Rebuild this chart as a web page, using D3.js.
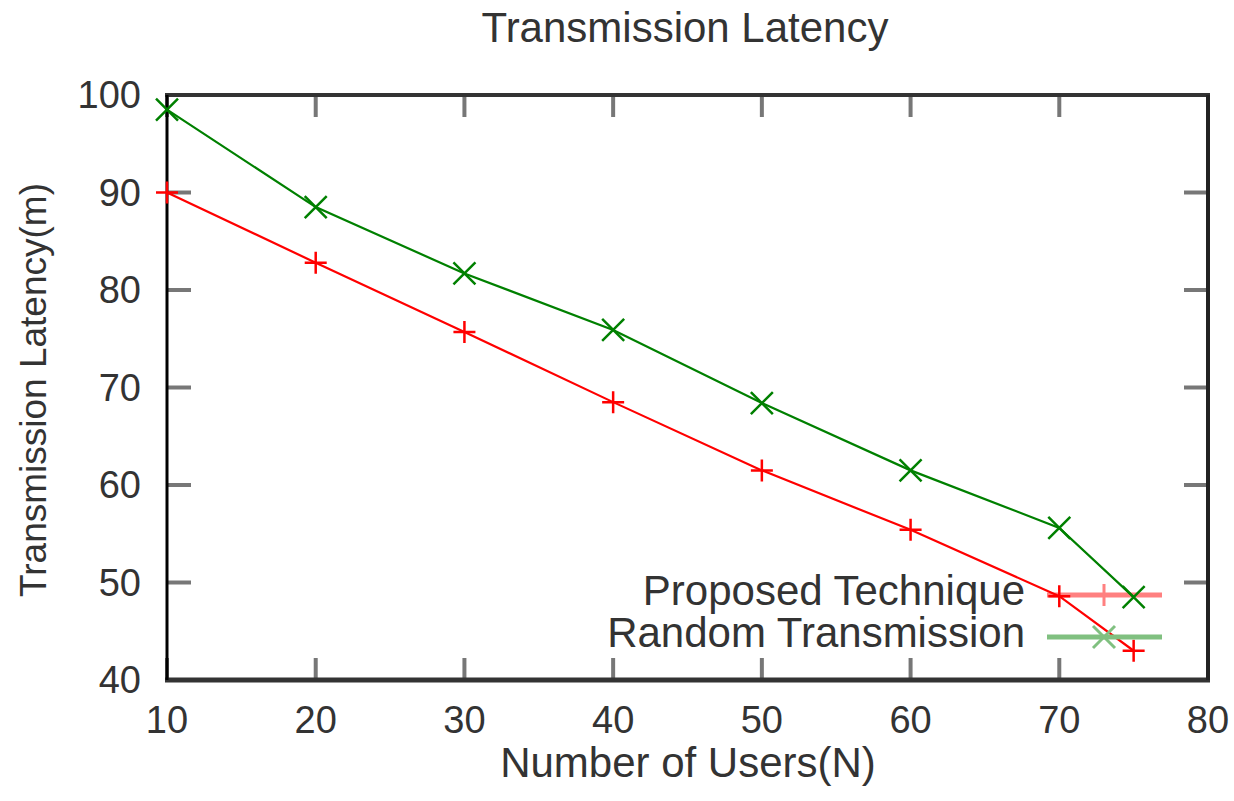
<!DOCTYPE html>
<meta charset="utf-8">
<style>
body { margin: 0; background: #fff; }
svg { display: block; font-family: "Liberation Sans", Arial, sans-serif; }
</style>
<body>
<script src="https://d3js.org/d3.v7.min.js"></script>
<script>

var users = [10, 20, 30, 40, 50, 60, 70, 75];
var proposed = [90, 82.8, 75.7, 68.5, 61.5, 55.4, 48.6, 43.0];
var randomTx = [98.5, 88.5, 81.7, 75.9, 68.4, 61.5, 55.6, 48.5];
var xTicks = [10, 20, 30, 40, 50, 60, 70, 80];
var yTicks = [40, 50, 60, 70, 80, 90, 100];
var seriesNames = ["Proposed Technique", "Random Transmission"];

var width = 1234, height = 801;
var margin = {top: 95, right: 26, bottom: 121, left: 167};

var svg = d3.select("body").append("svg")
    .attr("width", width)
    .attr("height", height);

var x = d3.scaleLinear().domain([10, 80]).range([margin.left, 1208]);
var y = d3.scaleLinear().domain([40, 100]).range([680, margin.top]);

// ticks (inside, mirrored)
var tickG = svg.append("g").attr("stroke", "#777").attr("stroke-width", 4);
xTicks.forEach(function(t) {
  tickG.append("line").attr("x1", x(t)).attr("x2", x(t)).attr("y1", y(40)).attr("y2", y(40) - 22);
  tickG.append("line").attr("x1", x(t)).attr("x2", x(t)).attr("y1", y(100)).attr("y2", y(100) + 22);
});
yTicks.forEach(function(t) {
  tickG.append("line").attr("x1", x(10)).attr("x2", x(10) + 24).attr("y1", y(t)).attr("y2", y(t));
  tickG.append("line").attr("x1", x(80)).attr("x2", x(80) - 24).attr("y1", y(t)).attr("y2", y(t));
});

// border
svg.append("line").attr("x1", x(10) - 2).attr("x2", x(80) + 2).attr("y1", y(100)).attr("y2", y(100))
    .attr("stroke", "#333").attr("stroke-width", 4);
svg.append("line").attr("x1", x(10) - 2).attr("x2", x(80) + 2).attr("y1", y(40)).attr("y2", y(40))
    .attr("stroke", "#333").attr("stroke-width", 5);
svg.append("line").attr("x1", x(10)).attr("x2", x(10)).attr("y1", y(100)).attr("y2", y(40))
    .attr("stroke", "#000").attr("stroke-width", 3);
svg.append("line").attr("x1", x(80)).attr("x2", x(80)).attr("y1", y(100)).attr("y2", y(40))
    .attr("stroke", "#222").attr("stroke-width", 4);

// tick labels
svg.append("g").selectAll("text").data(xTicks).enter().append("text")
    .attr("x", function(d) { return x(d); })
    .attr("y", 733)
    .attr("text-anchor", "middle")
    .attr("font-size", 38)
    .attr("fill", "#333")
    .text(function(d) { return d; });

svg.append("g").selectAll("text").data(yTicks).enter().append("text")
    .attr("x", 141)
    .attr("y", function(d) { return y(d) + 13; })
    .attr("text-anchor", "end")
    .attr("font-size", 38)
    .attr("fill", "#333")
    .text(function(d) { return d; });

// titles
svg.append("text").attr("x", 685).attr("y", 42).attr("text-anchor", "middle")
    .attr("font-size", 42).attr("fill", "#333").text("Transmission Latency");
svg.append("text").attr("x", 688).attr("y", 777).attr("text-anchor", "middle")
    .attr("font-size", 42).attr("fill", "#333").text("Number of Users(N)");
svg.append("text").attr("transform", "translate(46,390) rotate(-90)").attr("text-anchor", "middle")
    .attr("font-size", 37).attr("fill", "#333").text("Transmission Latency(m)");

// marker shapes
function plusPath(cx, cy, r) {
  return "M" + (cx - r) + "," + cy + "H" + (cx + r) + "M" + cx + "," + (cy - r) + "V" + (cy + r);
}
function crossPath(cx, cy, r) {
  return "M" + (cx - r) + "," + (cy - r) + "L" + (cx + r) + "," + (cy + r) +
         "M" + (cx - r) + "," + (cy + r) + "L" + (cx + r) + "," + (cy - r);
}

var series = [
  {name: seriesNames[0], values: proposed, color: "#ff0000", legendColor: "#ff8080", marker: plusPath, r: 11},
  {name: seriesNames[1], values: randomTx, color: "#008000", legendColor: "#80c080", marker: crossPath, r: 11}
];

var line = d3.line()
    .x(function(d, i) { return x(users[i]); })
    .y(function(d) { return y(d); });

series.forEach(function(s, k) {
  var ly = k === 0 ? 595 : 637;
  // legend
  svg.append("text").attr("x", 1025).attr("y", ly + 10).attr("text-anchor", "end")
      .attr("font-size", 42).attr("fill", "#333").text(s.name);
  svg.append("line").attr("x1", 1047).attr("x2", 1162).attr("y1", ly).attr("y2", ly)
      .attr("stroke", s.legendColor).attr("stroke-width", 5);
  svg.append("path").attr("d", s.marker(1104, ly, s.r))
      .attr("stroke", s.legendColor).attr("stroke-width", 3).attr("fill", "none");

  svg.append("path").datum(s.values)
      .attr("d", line)
      .attr("fill", "none")
      .attr("stroke", s.color)
      .attr("stroke-width", 2.2);

  svg.append("g").selectAll("path").data(s.values).enter().append("path")
      .attr("d", function(d, i) { return s.marker(x(users[i]), y(d), s.r); })
      .attr("stroke", s.color)
      .attr("stroke-width", 2.5)
      .attr("fill", "none");
});

</script>
</body>
